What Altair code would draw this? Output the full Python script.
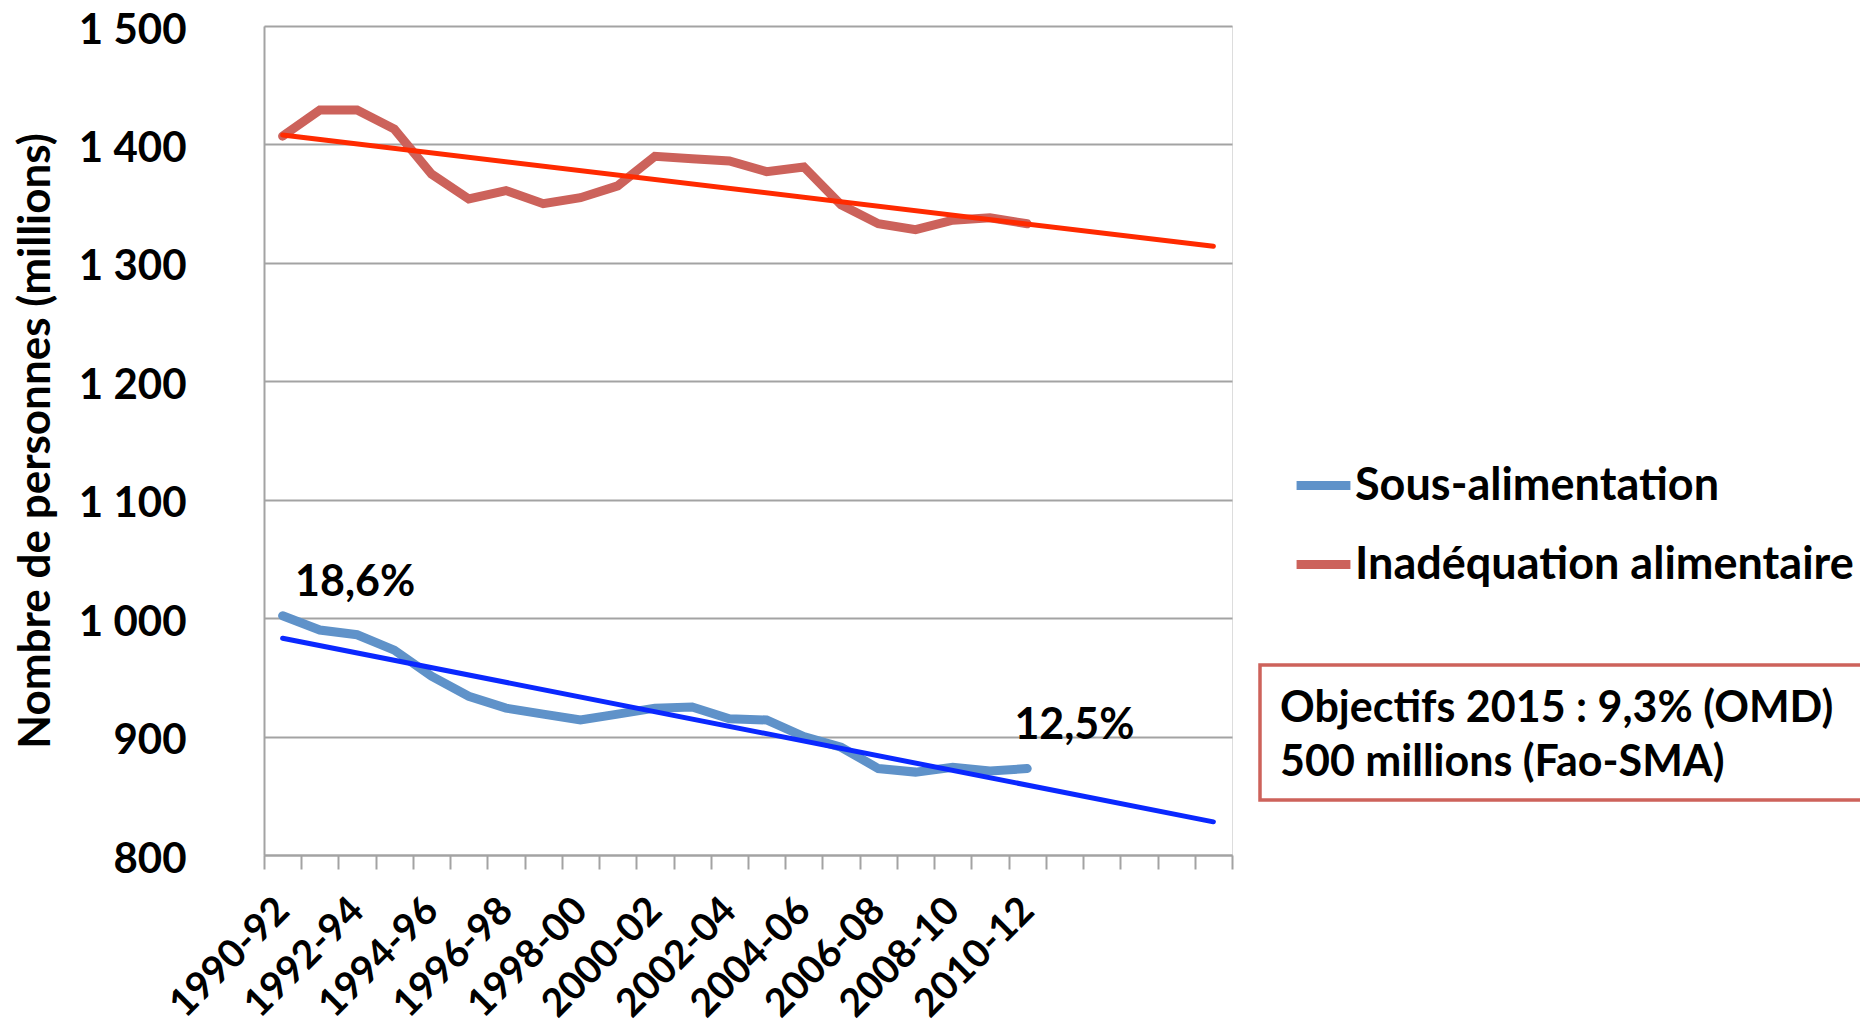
import altair as alt
import pandas as pd

# ---- data ----
periods = [
    "1990-92", "1991-93", "1992-94", "1993-95", "1994-96", "1995-97", "1996-98",
    "1997-99", "1998-00", "1999-01", "2000-02", "2001-03", "2002-04", "2003-05",
    "2004-06", "2005-07", "2006-08", "2007-09", "2008-10", "2009-11", "2010-12",
    "2011-13", "2012-14", "2013-15", "2014-16", "2015-17",
]
labeled_periods = [
    "1990-92", "1992-94", "1994-96", "1996-98", "1998-00", "2000-02",
    "2002-04", "2004-06", "2006-08", "2008-10", "2010-12",
]
observed_periods = periods[:21]

sous_alimentation = [1002, 990, 986, 973, 951, 934, 924, 919, 914, 919, 924,
                     925, 915, 914, 900, 891, 873, 870, 874, 871, 873]
inadequation = [1407, 1429, 1429, 1413, 1375, 1354, 1361, 1350, 1355, 1365, 1390,
                1388, 1386, 1377, 1381, 1349, 1333, 1328, 1336, 1338, 1333]

series_names = ["Sous-alimentation", "Inadéquation alimentaire"]
series_colors = ["#5f92c9", "#cc625b"]

trend_periods = ["1990-92", "2015-17"]
trend_sous = [983, 828]
trend_inad = [1408, 1314]

pct_start_label, pct_start_period, pct_start_value = "18,6%", "1992-94", 1030
pct_end_label, pct_end_period, pct_end_value = "12,5%", "2011-13", 909

box_lines = ["Objectifs 2015 : 9,3% (OMD)", "500 millions (Fao-SMA)"]

FONT = "Lato"

# ---- tables ----
main_df = pd.DataFrame({
    "period": observed_periods * 2,
    "value": sous_alimentation + inadequation,
    "series": [series_names[0]] * len(observed_periods) + [series_names[1]] * len(observed_periods),
})
trend_s_df = pd.DataFrame({"period": trend_periods, "value": trend_sous})
trend_i_df = pd.DataFrame({"period": trend_periods, "value": trend_inad})
pct_start_df = pd.DataFrame({"period": [pct_start_period], "value": [pct_start_value], "label": [pct_start_label]})
pct_end_df = pd.DataFrame({"period": [pct_end_period], "value": [pct_end_value], "label": [pct_end_label]})

label_list = "[" + ",".join("'" + p + "'" for p in labeled_periods) + "]"

x_enc = alt.X(
    "period:N",
    sort=periods,
    scale=alt.Scale(type="band", domain=periods, paddingInner=0, paddingOuter=0),
    axis=alt.Axis(
        title=None,
        tickBand="extent",
        ticks=True,
        tickSize=14,
        tickColor="#a3a3a3",
        tickWidth=2,
        domainColor="#a3a3a3",
        domainWidth=2,
        grid=False,
        labelAngle=315,
        labelAlign="right",
        labelBaseline="middle",
        labelPadding=35,
        labelOverlap=False,
        labelFont=FONT,
        labelFontSize=39,
        labelFontWeight="bold",
        labelColor="black",
        labelExpr="indexof(" + label_list + ", datum.value) >= 0 ? datum.value : ''",
    ),
)

y_scale = alt.Scale(domain=[800, 1500], nice=False, zero=False)
y_enc = alt.Y(
    "value:Q",
    scale=y_scale,
    axis=alt.Axis(
        title="Nombre de personnes (millions)",
        titleFont=FONT,
        titleFontSize=44,
        titleFontWeight="bold",
        titleColor="black",
        titlePadding=20,
        values=[800, 900, 1000, 1100, 1200, 1300, 1400, 1500],
        ticks=False,
        domainColor="#a3a3a3",
        domainWidth=2,
        grid=True,
        gridColor="#a3a3a3",
        gridWidth=2,
        labelPadding=78,
        labelOffset=4,
        labelFont=FONT,
        labelFontSize=42,
        labelFontWeight="bold",
        labelColor="black",
        labelExpr="replace(format(datum.value, ','), ',', ' ')",
    ),
)

main = alt.Chart(main_df).mark_line(strokeWidth=9, strokeCap="round", strokeJoin="miter").encode(
    x=x_enc,
    y=y_enc,
    color=alt.Color(
        "series:N",
        scale=alt.Scale(domain=series_names, range=series_colors),
        sort=series_names,
        legend=alt.Legend(
            title=None,
            orient="none",
            legendX=1028,
            legendY=428,
            symbolType="stroke",
            symbolSize=2900,
            symbolStrokeWidth=9,
            labelFont=FONT,
            labelFontSize=45,
            labelFontWeight="bold",
            labelColor="black",
            labelOffset=0,
            rowPadding=24,
            padding=0,
            labelLimit=800,
        ),
    ),
)

trend_s = alt.Chart(trend_s_df).mark_line(strokeWidth=5, strokeCap="round", color="#0a28ff").encode(
    x=alt.X("period:N", sort=periods), y=alt.Y("value:Q", scale=y_scale)
)
trend_i = alt.Chart(trend_i_df).mark_line(strokeWidth=5, strokeCap="round", color="#ff2a00").encode(
    x=alt.X("period:N", sort=periods), y=alt.Y("value:Q", scale=y_scale)
)


def pct_layer(df, dx):
    return alt.Chart(df).mark_text(
        font=FONT, fontSize=43, fontWeight="bold", color="black",
        align="center", baseline="middle", dx=dx,
    ).encode(x=alt.X("period:N", sort=periods), y=alt.Y("value:Q", scale=y_scale), text="label:N")


pct_start = pct_layer(pct_start_df, -2)
pct_end = pct_layer(pct_end_df, 10)

box_df = pd.DataFrame({"k": [0]})
box = alt.Chart(box_df).mark_rect(fill="white", stroke="#cd625b", strokeWidth=3.5).encode(
    x=alt.value(996), x2=alt.value(1700), y=alt.value(639), y2=alt.value(774)
)
box_text = alt.Chart(box_df).mark_text(
    text=box_lines, font=FONT, fontSize=43, fontWeight="bold", color="black",
    align="left", baseline="middle", lineHeight=54,
).encode(x=alt.value(1016), y=alt.value(683))

chart = alt.layer(main, trend_s, trend_i, pct_start, pct_end, box, box_text).properties(
    width=968,
    height=829,
    autosize=alt.AutoSizeParams(type="none"),
    padding={"left": 256, "top": 18, "right": 628, "bottom": 169},
).configure_view(stroke=None).configure(background="white")

chart.save("out.html", embed_options={"renderer": "svg", "actions": False})
